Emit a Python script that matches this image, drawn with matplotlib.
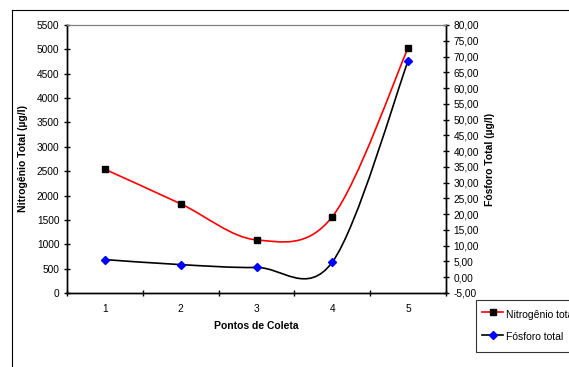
import matplotlib
matplotlib.use("Agg")
import matplotlib.pyplot as plt
from matplotlib.path import Path
from matplotlib.patches import PathPatch
from matplotlib.lines import Line2D
from matplotlib.ticker import FixedLocator, FuncFormatter

# dados
pontos = [1, 2, 3, 4, 5]
nitrogenio = [2540, 1830, 1090, 1565, 5030]
fosforo = [5.6, 4.0, 3.1, 4.8, 68.6]

plt.rcParams['font.family'] = ['Liberation Sans', 'DejaVu Sans']
plt.rcParams['font.size'] = 7.3


def curva_suave(xs, ys):
    # curva suavizada tipo Excel (Catmull-Rom em Bezier)
    pts = list(zip(xs, ys))
    n = len(pts)
    verts = [pts[0]]
    codes = [Path.MOVETO]
    for i in range(n - 1):
        p0 = pts[max(i - 1, 0)]
        p1 = pts[i]
        p2 = pts[i + 1]
        p3 = pts[min(i + 2, n - 1)]
        c1 = (p1[0] + (p2[0] - p0[0]) / 6, p1[1] + (p2[1] - p0[1]) / 6)
        c2 = (p2[0] - (p3[0] - p1[0]) / 6, p2[1] - (p3[1] - p1[1]) / 6)
        verts += [c1, c2, p2]
        codes += [Path.CURVE4] * 3
    return Path(verts, codes)


fig = plt.figure(figsize=(5.69, 3.67), dpi=100)
ax = fig.add_axes([67 / 569, 1 - 293 / 367, (446 - 67) / 569, (293 - 25) / 367])
ax2 = ax.twinx()

# nitrogenio
ax.add_patch(PathPatch(curva_suave(pontos, nitrogenio), fill=False,
                       edgecolor='#ff0000', linewidth=1.2, zorder=2))
ax.plot(pontos, nitrogenio, linestyle='none', marker='s', markersize=5,
        color='black', zorder=3)

# fosforo
ax2.add_patch(PathPatch(curva_suave(pontos, fosforo), fill=False,
                        edgecolor='black', linewidth=1.2, zorder=2))
ax2.plot(pontos, fosforo, linestyle='none', marker='D', markersize=4,
         color='#0000ff', zorder=3)

ax.set_xlim(0.5, 5.5)
ax.set_ylim(0, 5500)
ax2.set_ylim(-5, 80)
ax.set_yticks(range(0, 5501, 500))
ax2.set_yticks([v * 5 for v in range(-1, 17)])
ax2.yaxis.set_major_formatter(FuncFormatter(lambda v, p: f"{v:.2f}".replace('.', ',')))

ax.xaxis.set_major_locator(FixedLocator([0.5, 1.5, 2.5, 3.5, 4.5, 5.5]))
ax.xaxis.set_minor_locator(FixedLocator(pontos))
ax.set_xticklabels([])
ax.set_xticklabels([str(p) for p in pontos], minor=True)
ax.tick_params(axis='x', which='minor', length=0, pad=8)
ax.tick_params(axis='x', which='major', direction='inout', length=5, width=1)
ax.tick_params(axis='y', direction='inout', length=5, width=1, pad=3)
ax2.tick_params(axis='y', direction='inout', length=5, width=1, pad=3)

for a in (ax, ax2):
    a.spines['top'].set_color('#808080')
    a.spines['left'].set_linewidth(1)
    a.spines['right'].set_linewidth(1)
    a.spines['bottom'].set_linewidth(1)

ax.set_xlabel('Pontos de Coleta', fontweight='bold', fontsize=7.5, labelpad=5)
ax.set_ylabel('Nitrogênio Total (µg/l)', fontweight='bold', fontsize=7.5, labelpad=6)
ax2.set_ylabel('Fósforo Total (µg/l)', fontweight='bold', fontsize=7.5, labelpad=4)

# moldura externa
fig.add_artist(Line2D([11.5 / 569, 11.5 / 569], [0, 1 - 10 / 367],
                      transform=fig.transFigure, color='black', linewidth=0.8))
fig.add_artist(Line2D([11.5 / 569, 1], [1 - 10 / 367, 1 - 10 / 367],
                      transform=fig.transFigure, color='black', linewidth=0.8))

# legenda
handles = [Line2D([], [], color='#ff0000', marker='s', markersize=5,
                  markerfacecolor='black', markeredgecolor='black', linewidth=1.2),
           Line2D([], [], color='black', marker='D', markersize=4,
                  markerfacecolor='#0000ff', markeredgecolor='#0000ff', linewidth=1.2)]
leg = fig.legend(handles, ['Nitrogênio total', 'Fósforo total'],
                 loc='upper left', bbox_to_anchor=(476 / 569, 1 - 300 / 367),
                 frameon=True, fancybox=False, fontsize=7.5, handlelength=2,
                 handleheight=2.1, handletextpad=0.3, labelspacing=0.55,
                 borderpad=0.6, borderaxespad=0)
leg.get_frame().set_edgecolor('black')
leg.get_frame().set_linewidth(0.8)

plt.savefig('out.png', dpi=100)
